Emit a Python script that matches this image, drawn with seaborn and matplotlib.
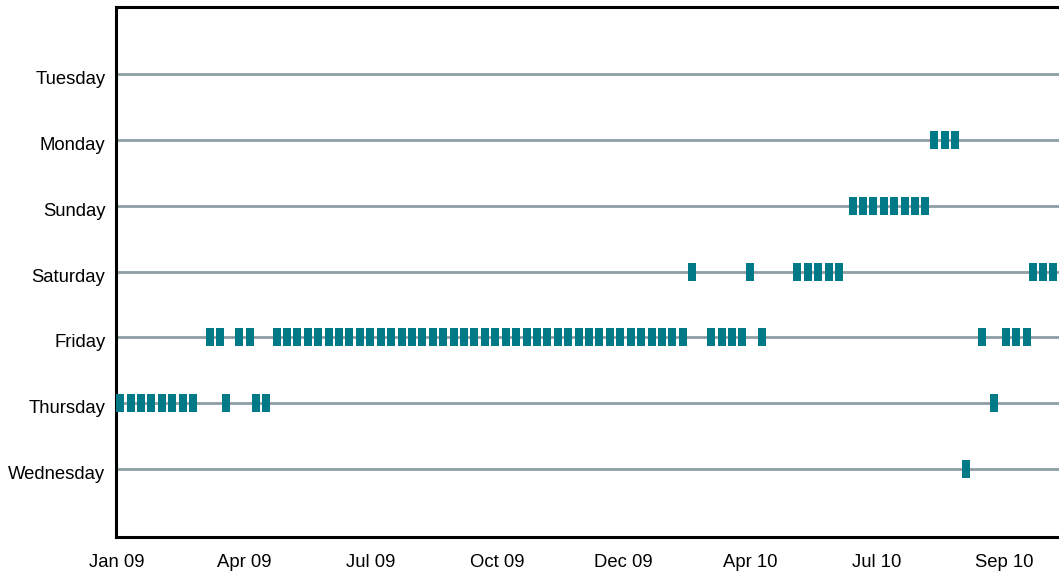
import pandas as pd
import matplotlib
matplotlib.use("Agg")
import matplotlib.pyplot as plt
import matplotlib.dates as mdates
import matplotlib.transforms as mtransforms
from matplotlib.markers import MarkerStyle
from matplotlib.path import Path
import seaborn as sns

day_order = ["Wednesday", "Thursday", "Friday", "Saturday", "Sunday", "Monday", "Tuesday"]

wednesday = ["2010-07-23"]
thursday = ["2009-01-01", "2009-01-08", "2009-01-15", "2009-01-22", "2009-01-29",
            "2009-02-05", "2009-02-12", "2009-02-19", "2009-03-13", "2009-04-02",
            "2009-04-09", "2010-08-11"]
friday = ["2009-03-02", "2009-03-09", "2009-03-22", "2009-03-29",
          "2009-04-16", "2009-04-23", "2009-04-30", "2009-05-07", "2009-05-14",
          "2009-05-21", "2009-05-28", "2009-06-04", "2009-06-11", "2009-06-18",
          "2009-06-25", "2009-07-02", "2009-07-09", "2009-07-16", "2009-07-23",
          "2009-07-30", "2009-08-06", "2009-08-13", "2009-08-20", "2009-08-27",
          "2009-09-03", "2009-09-10", "2009-09-17", "2009-09-24", "2009-10-01",
          "2009-10-08", "2009-10-15", "2009-10-22", "2009-10-29", "2009-11-05",
          "2009-11-12", "2009-11-19", "2009-11-26", "2009-12-03", "2009-12-10",
          "2009-12-17", "2009-12-24", "2009-12-31", "2010-01-07", "2010-01-14",
          "2010-02-02", "2010-02-09", "2010-02-16", "2010-02-23", "2010-03-08",
          "2010-08-03", "2010-08-19", "2010-08-26", "2010-09-02"]
saturday = ["2010-01-20", "2010-02-28", "2010-04-01", "2010-04-08", "2010-04-15",
            "2010-04-22", "2010-04-29", "2010-09-06", "2010-09-13", "2010-09-20"]
sunday = ["2010-05-08", "2010-05-15", "2010-05-22", "2010-05-29",
          "2010-06-05", "2010-06-12", "2010-06-19", "2010-06-26"]
monday = ["2010-07-02", "2010-07-09", "2010-07-16"]
tuesday = []

tick_dates = ["2008-12-29 12:00", "2009-03-25", "2009-06-18", "2009-09-11",
              "2009-12-05", "2010-02-28", "2010-05-24", "2010-08-18"]
tick_labels = ["Jan 09", "Apr 09", "Jul 09", "Oct 09", "Dec 09", "Apr 10", "Jul 10", "Sep 10"]

rows = {"Wednesday": wednesday, "Thursday": thursday, "Friday": friday,
        "Saturday": saturday, "Sunday": sunday, "Monday": monday, "Tuesday": tuesday}
df = pd.DataFrame([(pd.Timestamp(d), day) for day, dates in rows.items() for d in dates],
                  columns=["date", "day"])
df["pos"] = df["day"].map({d: i for i, d in enumerate(day_order)})

sns.set_style("white")
plt.rcParams["font.family"] = ["Liberation Sans", "DejaVu Sans"]

fig = plt.figure(figsize=(10.59, 5.77), dpi=100)
ax = fig.add_axes([0.110, 0.0693, 0.890, 0.918])

rect = MarkerStyle(Path([(-0.25, -0.5), (0.25, -0.5), (0.25, 0.5), (-0.25, 0.5), (-0.25, -0.5)],
                        closed=True))
sns.scatterplot(data=df, x="date", y="pos", ax=ax, marker=rect, s=150,
                color="#007a87", linewidth=0, zorder=3, legend=False)

ax.set_xlim(pd.Timestamp("2008-12-29 12:00"), pd.Timestamp("2010-09-23 17:00"))
ax.set_ylim(-1.035, 7.02)
ax.set_yticks(range(len(day_order)))
ax.set_yticklabels(day_order)
ax.set_xticks([mdates.date2num(pd.Timestamp(t)) for t in tick_dates])
ax.set_xticklabels(tick_labels)
ax.set_xlabel("")
ax.set_ylabel("")

ax.grid(axis="y", color="#8d9ea5", linewidth=2)
ax.grid(axis="x", visible=False)
ax.set_axisbelow(True)

ax.tick_params(axis="y", length=0, pad=8, labelsize=13.3, colors="black")
ax.tick_params(axis="x", direction="in", length=4, width=1, color="#9a9a9a",
               pad=12.5, labelsize=13.3, labelcolor="black")

# labels in the reference sit a touch below their grid lines
shift = mtransforms.ScaledTranslation(0, -2.5 / 72, fig.dpi_scale_trans)
for lab in ax.get_yticklabels():
    lab.set_transform(lab.get_transform() + shift)

for side in ["left", "bottom", "top"]:
    ax.spines[side].set_color("black")
    ax.spines[side].set_linewidth(2.2)
    ax.spines[side].set_visible(True)
ax.spines["right"].set_visible(False)

fig.savefig("out.png", dpi=100)
